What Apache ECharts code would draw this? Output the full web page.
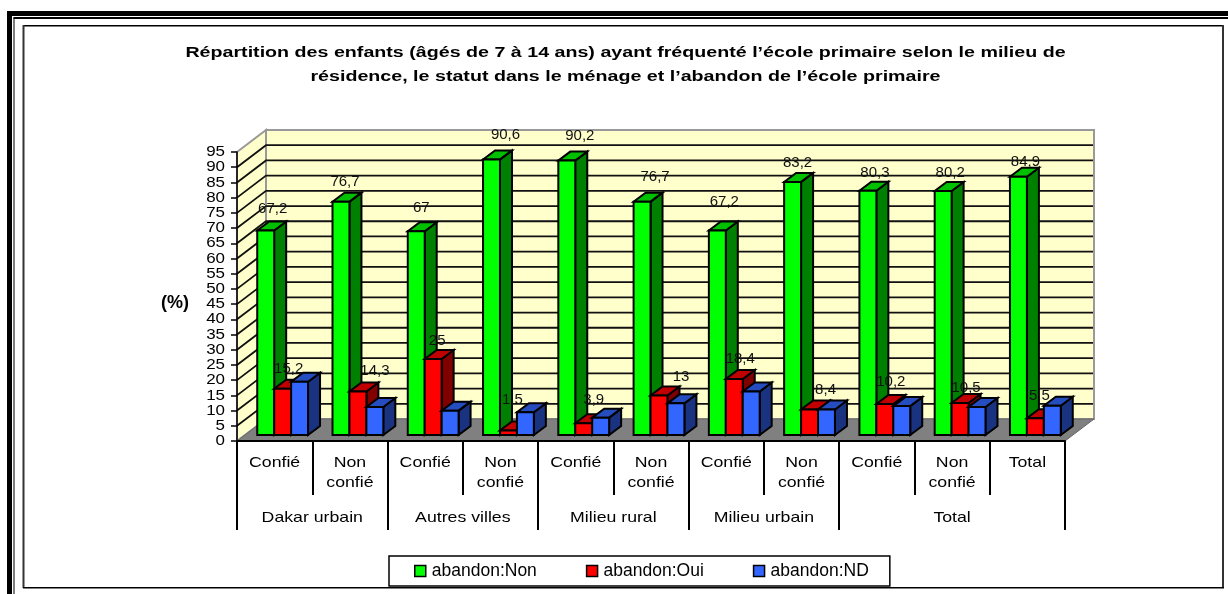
<!DOCTYPE html>
<html>
<head>
<meta charset="utf-8">
<style>
  html, body { margin: 0; padding: 0; background: #fff; }
  #chart { width: 1228px; height: 594px; }
</style>
</head>
<body>
<div id="chart"></div>
<script src="https://cdn.jsdelivr.net/npm/echarts@6/dist/echarts.min.js"></script>
<script>
const titleLines = [
  'Répartition des enfants (âgés de 7 à 14 ans) ayant fréquenté l’école primaire selon le milieu de',
  'résidence, le statut dans le ménage et l’abandon de l’école primaire'
];
const categories = ['Confié', 'Non\nconfié', 'Confié', 'Non\nconfié', 'Confié', 'Non\nconfié', 'Confié', 'Non\nconfié', 'Confié', 'Non\nconfié', 'Total'];
const groupLabels = ['Dakar urbain', 'Autres villes', 'Milieu rural', 'Milieu urbain', 'Total'];
const groupSpans = [2, 2, 2, 2, 3];
const yTicks = [0, 5, 10, 15, 20, 25, 30, 35, 40, 45, 50, 55, 60, 65, 70, 75, 80, 85, 90, 95];

const abandonNon = [67.2, 76.7, 67, 90.6, 90.2, 76.7, 67.2, 83.2, 80.3, 80.2, 84.9];
const abandonOui = [15.2, 14.3, 25, 1.5, 3.9, 13, 18.4, 8.4, 10.2, 10.5, 5.5];
// pas d'etiquette sur le graphique pour ND, lu a l'oeil
const abandonND = [17.5, 9.2, 8, 7.5, 5.7, 10.4, 14.3, 8.4, 9.5, 9.2, 9.6];

// label nudges [dx, dy], the originals were moved by hand
const nonLabelShift = [[7, -22], [4, -20], [5, -23], [14, -25], [13, -25], [13, -25], [7, -29], [5, -19], [7, -18], [7, -18], [7, -15]];
const ouiLabelShift = [[6, -20], [17, -21], [4, -18], [4, -31], [10, -23], [22, -19], [6, -20], [16, -20], [6, -22], [6, -15], [4, -22]];

const FONT = '"Liberation Sans", Arial, sans-serif';
const WALL_DX = 29, WALL_DY = -22;   // profondeur du fond
const BAR_DX = 12, BAR_DY = -9;      // profondeur des barres
const FLOOR_DX = 8, FLOOR_DY = -6;   // retrait des barres sur le sol
const TEXT_STRETCH = 1.18;

const myChart = echarts.init(document.getElementById('chart'));

function renderBackdrop(params, api) {
  const r = params.coordSys;
  const left = r.x, right = r.x + r.width, bottom = r.y + r.height, top = r.y;
  const wallStyle = { fill: '#FFFFCC', stroke: '#999999', lineWidth: 2 };
  const children = [
    { type: 'polygon', shape: { points: [[left + WALL_DX, top + WALL_DY], [right + WALL_DX, top + WALL_DY], [right + WALL_DX, bottom + WALL_DY], [left + WALL_DX, bottom + WALL_DY]] }, style: wallStyle },
    { type: 'polygon', shape: { points: [[left, top], [left + WALL_DX, top + WALL_DY], [left + WALL_DX, bottom + WALL_DY], [left, bottom]] }, style: wallStyle },
    { type: 'polygon', shape: { points: [[left, bottom], [right, bottom], [right + WALL_DX, bottom + WALL_DY], [left + WALL_DX, bottom + WALL_DY]] }, style: { fill: '#808080', stroke: '#666666', lineWidth: 1 } }
  ];
  yTicks.forEach(v => {
    const y = api.coord([0, v])[1];
    // graduations collees a l'axe, ecrites ici car l'axe masque celles qui se touchent
    children.push({
      type: 'text', x: left - 12, y: y, scaleX: 1.13,
      style: { text: String(v), fill: '#000', font: '15px ' + FONT, align: 'right', verticalAlign: 'middle' }
    });
    if (v === 0 || v === 95) return;
    children.push({
      type: 'polyline',
      shape: { points: [[left, y], [left + WALL_DX, y + WALL_DY], [right + WALL_DX - 1, y + WALL_DY]] },
      style: { fill: null, stroke: '#111111', lineWidth: 1.8 }
    });
  });
  return { type: 'group', children };
}

function renderCategoryAxis(params, api) {
  const r = params.coordSys;
  const band = r.width / categories.length;
  const bottom = r.y + r.height;
  const children = [];
  categories.forEach((c, i) => {
    children.push({
      type: 'text', x: r.x + band * (i + 0.5), y: bottom + 12, scaleX: TEXT_STRETCH,
      style: { text: c, fill: '#000', font: '15px ' + FONT, align: 'center', verticalAlign: 'top', lineHeight: 20 }
    });
  });
  let at = 0;
  const sep = k => ({
    type: 'line',
    shape: { x1: Math.round(r.x + band * k), y1: bottom, x2: Math.round(r.x + band * k), y2: bottom + 89 },
    style: { stroke: '#000', lineWidth: 2 }
  });
  children.push(sep(0));
  groupSpans.forEach((span, g) => {
    children.push({
      type: 'text', x: r.x + band * (at + span / 2), y: bottom + 77, scaleX: TEXT_STRETCH,
      style: { text: groupLabels[g], fill: '#000', font: '15px ' + FONT, align: 'center', verticalAlign: 'middle' }
    });
    at += span;
    children.push(sep(at));
  });
  return { type: 'group', children };
}

function barSeries(name, values, slot, fill, side, topFace, z) {
  return {
    type: 'custom',
    name: name,
    coordinateSystem: 'cartesian2d',
    itemStyle: { color: fill },
    z: z,
    silent: true,
    clip: false,
    encode: { x: 0, y: 1 },
    data: values.map((v, i) => [i, v]),
    renderItem(params, api) {
      const i = api.value(0);
      const base = api.coord([i, 0]);
      const tip = api.coord([i, api.value(1)]);
      const w = api.size([1, 0])[0] * 0.225;
      const x0 = base[0] + FLOOR_DX + (slot - 1.5) * w;
      const x1 = x0 + w;
      const y0 = base[1] + FLOOR_DY;
      const y1 = tip[1] + FLOOR_DY;
      const line = { stroke: '#000', lineWidth: 2 };
      return {
        type: 'group',
        children: [
          { type: 'polygon', shape: { points: [[x1, y0], [x1 + BAR_DX, y0 + BAR_DY], [x1 + BAR_DX, y1 + BAR_DY], [x1, y1]] }, style: { fill: side, ...line } },
          { type: 'polygon', shape: { points: [[x0, y1], [x1, y1], [x1 + BAR_DX, y1 + BAR_DY], [x0 + BAR_DX, y1 + BAR_DY]] }, style: { fill: topFace, ...line } },
          { type: 'polygon', shape: { points: [[x0, y0], [x1, y0], [x1, y1], [x0, y1]] }, style: { fill: fill, ...line } }
        ]
      };
    }
  };
}

function valueLabels(values, slot, shifts) {
  return {
    type: 'custom',
    coordinateSystem: 'cartesian2d',
    z: 8,
    silent: true,
    clip: false,
    encode: { x: 0, y: 1 },
    data: values.map((v, i) => [i, v]),
    renderItem(params, api) {
      const i = api.value(0);
      const v = api.value(1);
      const base = api.coord([i, 0]);
      const tip = api.coord([i, v]);
      const w = api.size([1, 0])[0] * 0.225;
      return {
        type: 'text',
        x: base[0] + FLOOR_DX + (slot - 1) * w + shifts[i][0],
        y: tip[1] + FLOOR_DY + shifts[i][1],
        style: { text: String(v).replace('.', ','), fill: '#111', font: '15px ' + FONT, align: 'center', verticalAlign: 'middle' }
      };
    }
  };
}

const frameGraphics = [
  { type: 'rect', shape: { x: 7, y: 11, width: 5, height: 583 }, style: { fill: '#000' } },
  { type: 'rect', shape: { x: 7, y: 11, width: 1221, height: 5 }, style: { fill: '#000' } },
  { type: 'rect', shape: { x: 13.5, y: 17.5, width: 1, height: 577 }, style: { fill: '#000' } },
  { type: 'rect', shape: { x: 13.5, y: 17, width: 1215, height: 2 }, style: { fill: '#000' } },
  { type: 'rect', shape: { x: 23, y: 25, width: 1200, height: 1.5 }, style: { fill: '#000' } },
  { type: 'rect', shape: { x: 22.5, y: 25, width: 2, height: 563 }, style: { fill: '#333' } },
  { type: 'rect', shape: { x: 1222, y: 25, width: 2, height: 563 }, style: { fill: '#333' } },
  { type: 'rect', shape: { x: 23, y: 587, width: 1201, height: 1.5 }, style: { fill: '#000' } }
];
const titleGraphics = titleLines.map((t, i) => ({
  type: 'text', x: 625.5, y: 53 + i * 24, scaleX: 1.31,
  style: { text: t, fill: '#000', font: 'bold 15px ' + FONT, align: 'center', verticalAlign: 'middle' }
}));

myChart.setOption({
  animation: false,
  backgroundColor: '#fff',
  graphic: [
    ...frameGraphics,
    ...titleGraphics,
    { type: 'text', x: 175, y: 303, style: { text: '(%)', fill: '#000', font: 'bold 18px ' + FONT, align: 'center', verticalAlign: 'middle' } }
  ],
  grid: { left: 237, right: 163, top: 152, bottom: 153 },
  legend: {
    left: 389,
    top: 556,
    padding: [6, 21, 6, 25],
    selectedMode: false,
    backgroundColor: '#fff',
    borderColor: '#000',
    borderWidth: 1.5,
    icon: 'rect',
    itemWidth: 11,
    itemHeight: 11,
    itemGap: 49,
    itemStyle: { borderColor: '#000', borderWidth: 1.5 },
    textStyle: { color: '#000', fontFamily: FONT, fontSize: 17.5, padding: [0, 0, 0, 1] },
    data: ['abandon:Non', 'abandon:Oui', 'abandon:ND']
  },
  xAxis: {
    type: 'category',
    data: categories,
    z: 10,
    axisLine: { lineStyle: { color: '#000', width: 2 } },
    axisTick: { show: true, length: 54, lineStyle: { color: '#000', width: 2 } },
    axisLabel: { show: false },
    splitLine: { show: false }
  },
  yAxis: {
    type: 'value',
    min: 0,
    max: 95,
    interval: 5,
    z: 10,
    axisLine: { show: true, lineStyle: { color: '#000', width: 1.5 } },
    axisTick: { show: true, length: 6, lineStyle: { color: '#000', width: 1.5 } },
    axisLabel: { show: false },
    splitLine: { show: false }
  },
  series: [
    { type: 'custom', coordinateSystem: 'cartesian2d', z: 1, silent: true, clip: false, data: [[0, 0]], renderItem: renderBackdrop },
    { type: 'custom', coordinateSystem: 'cartesian2d', z: 1, silent: true, clip: false, data: [[0, 0]], renderItem: renderCategoryAxis },
    barSeries('abandon:Non', abandonNon, 0, '#00FF00', '#008000', '#00C000', 3),
    barSeries('abandon:Oui', abandonOui, 1, '#FF0000', '#800000', '#C00000', 4),
    barSeries('abandon:ND', abandonND, 2, '#3366FF', '#1A3380', '#264DBF', 5),
    valueLabels(abandonNon, 0, nonLabelShift),
    valueLabels(abandonOui, 1, ouiLabelShift)
  ]
});
</script>
</body>
</html>
